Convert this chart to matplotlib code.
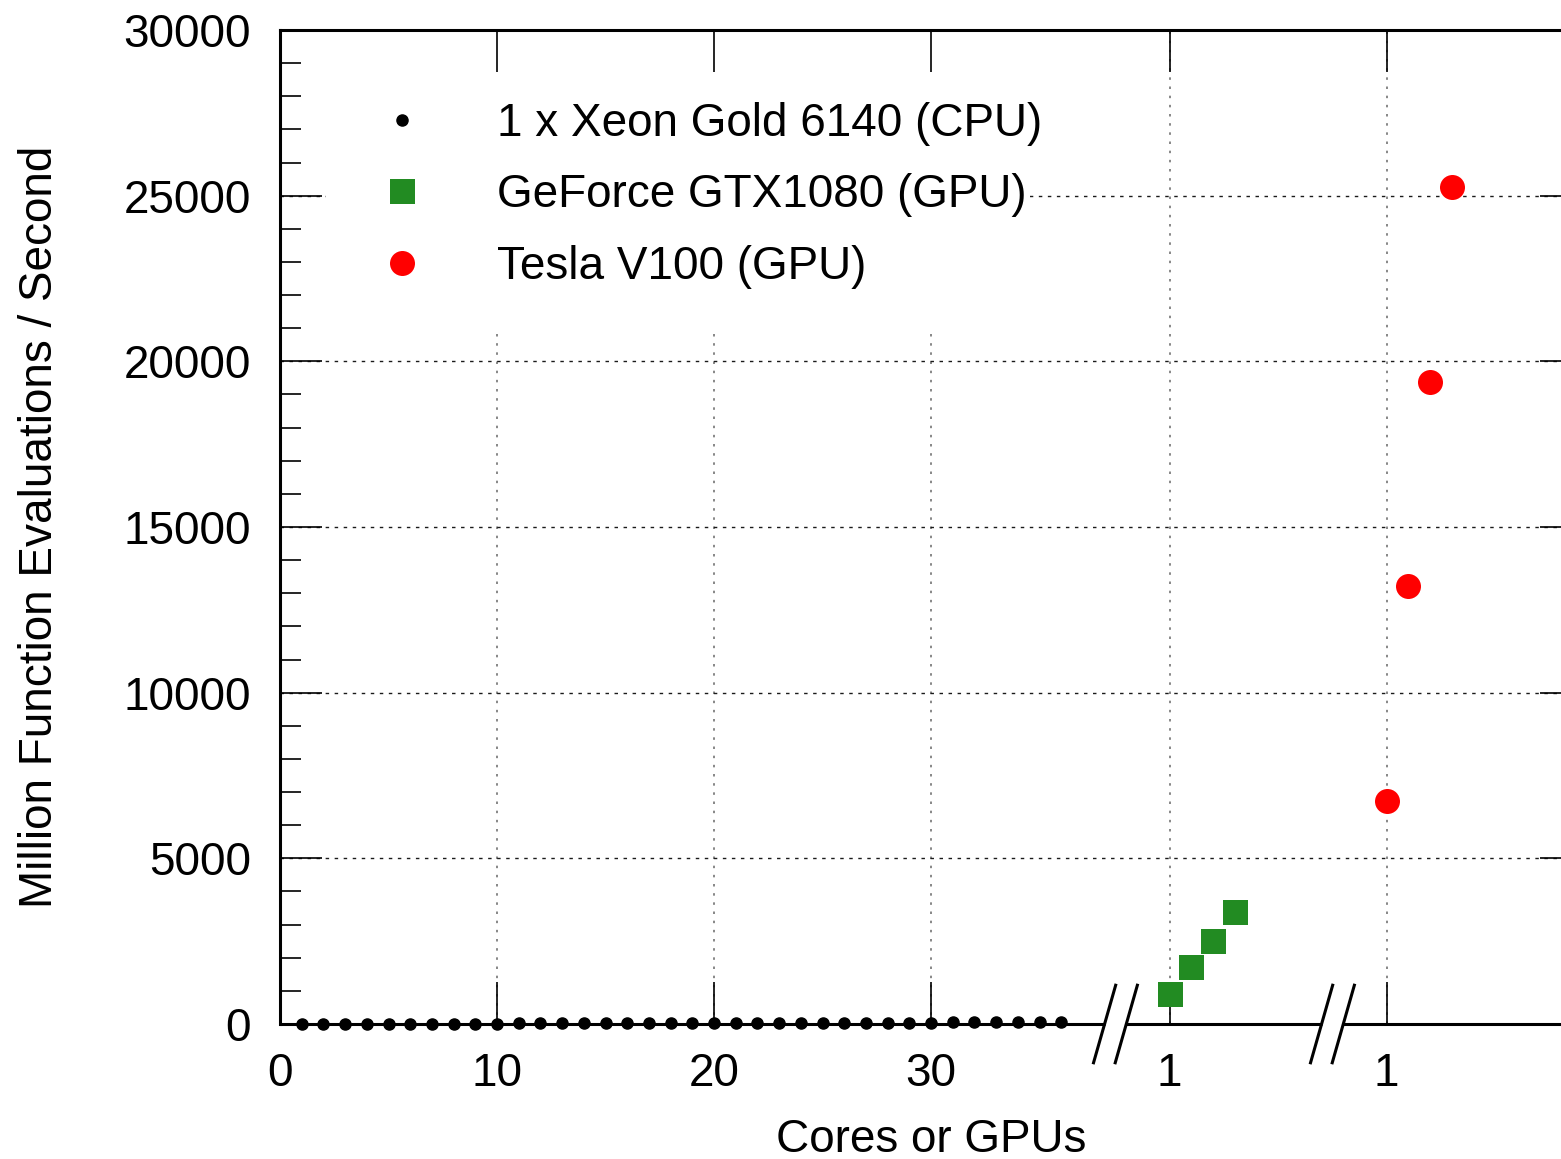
import numpy as np
import matplotlib
matplotlib.use("Agg")
import matplotlib.pyplot as plt
from matplotlib.patches import Rectangle
from matplotlib.ticker import MultipleLocator

plt.rcParams['font.family'] = ['Liberation Sans', 'DejaVu Sans']

# data
cpu_cores = list(range(1, 37))
cpu_rate = [2, 3, 5, 6, 8, 9, 11, 12, 14, 15, 17, 18, 20, 21, 23, 24, 26, 27,
            29, 30, 32, 33, 35, 36, 38, 39, 41, 42, 44, 45, 47, 48, 50, 51, 53, 54]
gtx_pos = [41, 42, 43, 44]
gtx_rate = [905, 1720, 2505, 3380]
v100_pos = [51, 52, 53, 54]
v100_rate = [6730, 13220, 19380, 25260]

xtick_pos = [0, 10, 20, 30, 41, 51]
xtick_lab = ['0', '10', '20', '30', '1', '1']
breaks = [(38, 39), (48, 49)]

FS = 33
W, H = 1561, 1159
fig = plt.figure(figsize=(W / 100, H / 100), dpi=100)
ax = fig.add_axes([280 / W, 1 - 1024 / H, 1302 / W, 994 / H])

ax.set_xlim(0, 60)
ax.set_ylim(0, 30000)

# grid (drawn by hand so the key box can hide part of it)
for x in xtick_pos[1:]:
    ax.axvline(x, color='0.45', lw=1.2, ls=(0, (1.5, 4)), zorder=0.5)
for y in range(5000, 30000, 5000):
    ax.axhline(y, color='0.1', lw=1.0, ls=(0, (2.5, 4)), zorder=0.5)

# white key box
ax.add_patch(Rectangle((0.035, 0.698), 0.541, 0.302, transform=ax.transAxes,
                       facecolor='white', edgecolor='none', zorder=0.8))

ax.plot(cpu_cores, cpu_rate, 'o', color='black', ms=8, clip_on=False, zorder=3,
        label='1 x Xeon Gold 6140 (CPU)')
ax.plot(gtx_pos, gtx_rate, 's', color='#228B22', ms=18, mew=0, zorder=3,
        label='GeForce GTX1080 (GPU)')
ax.plot(v100_pos, v100_rate, 'o', color='#FF0000', ms=18, mew=0, zorder=3,
        label='Tesla V100 (GPU)')

leg = ax.legend(loc='upper left', bbox_to_anchor=(0.0585, 0.928), frameon=False,
                fontsize=FS, borderpad=0, borderaxespad=0, handlelength=2,
                handletextpad=1.07, labelspacing=0.6, numpoints=1)
leg.set_zorder(5)

ax.set_xticks(xtick_pos)
ax.set_xticklabels(xtick_lab)
ax.yaxis.set_major_locator(MultipleLocator(5000))
ax.yaxis.set_minor_locator(MultipleLocator(1000))
ax.tick_params(axis='both', which='both', direction='in', top=True, right=True,
               labelsize=FS, width=1.2, zorder=4)
ax.tick_params(axis='both', which='major', length=30)
ax.tick_params(axis='both', which='minor', length=15)
ax.tick_params(axis='y', pad=21)
ax.tick_params(axis='x', pad=20)

for s in ['left', 'top', 'right']:
    ax.spines[s].set_linewidth(2.2)
ax.spines['bottom'].set_visible(False)

# bottom axis line with broken segments and slash marks
tr = ax.get_xaxis_transform()
seg_x = [0] + [v for b in breaks for v in b] + [60]
for a, b in zip(seg_x[::2], seg_x[1::2]):
    ax.plot([a, b], [0, 0], color='black', lw=2.2, transform=tr, clip_on=False,
            solid_capstyle='butt', zorder=4)
for b in breaks:
    for x in b:
        ax.plot([x - 0.51, x + 0.51], [-0.039, 0.039], color='black', lw=2.2,
                transform=tr, clip_on=False, zorder=4)

ax.set_xlabel('Cores or GPUs', fontsize=FS)
ax.set_ylabel('Million Function Evaluations / Second', fontsize=FS)
ax.xaxis.label.set_va('center')
ax.yaxis.label.set_va('center')
ax.xaxis.set_label_coords(0.5, -(1140 - 1024) / 994)
ax.yaxis.set_label_coords(-(280 - 40) / 1302, 0.5)

fig.savefig('out.png', dpi=100)
